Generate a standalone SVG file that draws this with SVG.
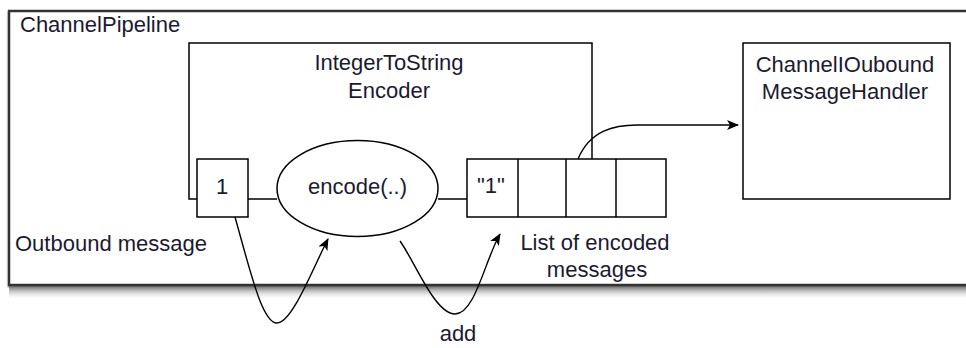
<svg xmlns="http://www.w3.org/2000/svg" width="966" height="348" viewBox="0 0 966 348">
  <defs>
    <linearGradient id="shadowB" x1="0" y1="0" x2="0" y2="1">
      <stop offset="0" stop-color="#555" stop-opacity="0.9"/>
      <stop offset="1" stop-color="#fff" stop-opacity="0"/>
    </linearGradient>
    <linearGradient id="shadowL" x1="1" y1="0" x2="0" y2="0">
      <stop offset="0" stop-color="#888" stop-opacity="0.6"/>
      <stop offset="1" stop-color="#fff" stop-opacity="0"/>
    </linearGradient>
    <marker id="arrow" viewBox="0 0 12 10" refX="11" refY="5" markerWidth="12" markerHeight="10" markerUnits="userSpaceOnUse" orient="auto">
      <path d="M0,0 L12,5 L0,10 L3,5 Z" fill="#000"/>
    </marker>
    <style>
      text { font-family: "Liberation Sans", Arial, sans-serif; font-size: 22px; fill: #1c1a30; }
      .c { text-anchor: middle; }
      .box { fill: #fff; stroke: #000; stroke-width: 1.5; }
      .ln { fill: none; stroke: #000; stroke-width: 1.5; }
      .cv { fill: none; stroke: #000; stroke-width: 1.4; }
    </style>
  </defs>

  <rect width="966" height="348" fill="#fff"/>

  <g id="pipeline">
    <rect x="5" y="12" width="4" height="276" fill="url(#shadowL)"/>
    <rect x="9" y="286" width="970" height="14" fill="url(#shadowB)"/>
    <rect x="9" y="11" width="970" height="274" fill="#fff" stroke="#333" stroke-width="2.5"/>
    <text x="20" y="32">ChannelPipeline</text>
  </g>

  <g id="encoder">
    <path class="ln" d="M197,199 H189 V43 H592 V159"/>
    <text class="c" x="389" y="70">IntegerToString</text>
    <text class="c" x="389" y="98">Encoder</text>
  </g>

  <g id="message">
    <rect class="box" x="197" y="159" width="51" height="58"/>
    <text class="c" x="222" y="194">1</text>
    <text x="15" y="251">Outbound message</text>
  </g>

  <g id="encode">
    <ellipse class="box" cx="357.5" cy="188.5" rx="80.5" ry="48"/>
    <text class="c" x="357.5" y="194">encode(..)</text>
  </g>

  <g id="list">
    <rect class="box" x="467" y="159" width="199" height="58"/>
    <path class="ln" d="M518,159 V217 M566,159 V217 M616,159 V217"/>
    <text class="c" x="491" y="193">"1"</text>
    <text class="c" x="595" y="250">List of encoded</text>
    <text class="c" x="597" y="277">messages</text>
  </g>

  <g id="handler">
    <rect class="box" x="743" y="43" width="207" height="156"/>
    <text class="c" x="845" y="72">ChannelIOubound</text>
    <text class="c" x="845" y="99">MessageHandler</text>
  </g>

  <g id="connectors">
    <path class="ln" d="M248,199 H277"/>
    <path class="ln" d="M438,199 H467"/>
    <path class="cv" marker-end="url(#arrow)" d="M578,159 C590,130 615,125 637,125 L738,125"/>
    <path class="cv" marker-end="url(#arrow)" d="M235,217 C250,270 262,323 277,323 C292,323 312,270 328,239"/>
    <path class="cv" marker-end="url(#arrow)" d="M400,241 C415,262 435,314 455,314 C475,314 485,260 500,234"/>
    <text class="c" x="458" y="341">add</text>
  </g>
</svg>
